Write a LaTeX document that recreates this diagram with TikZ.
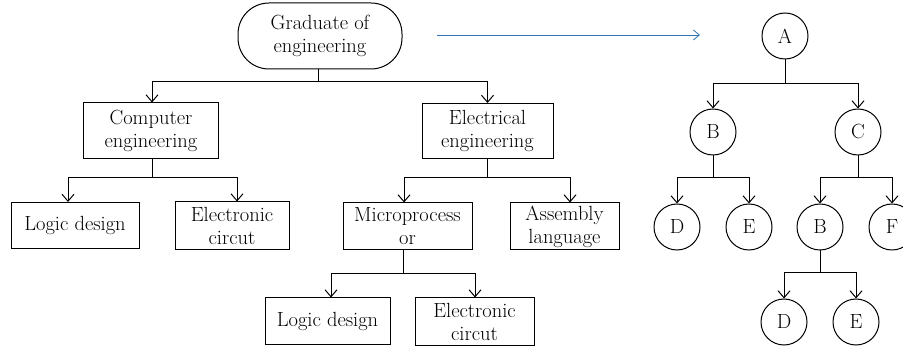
\documentclass[tikz,border=0pt]{standalone}
\usetikzlibrary{arrows.meta}
\definecolor{linkblue}{RGB}{46,117,182}
\begin{document}
\begin{tikzpicture}[x=1pt,y=-1pt,
  every node/.style={font=\fontsize{20.5}{23}\selectfont},
  box/.style={draw, line width=1pt, align=center, inner sep=0pt},
  pill/.style={box, rounded corners=31pt},
  circ/.style={draw, circle, line width=1pt, minimum size=46pt, inner sep=0pt},
  ln/.style={line width=1pt},
  arr/.style={ln, -{Straight Barb[length=7pt,width=12pt,line width=1pt]}},
  barr/.style={linkblue, line width=0.8pt, -{Straight Barb[length=6pt,width=10pt,line width=0.8pt]}}]
\clip (0,0) rectangle (903,347);
% left tree
\node[pill, minimum width=164pt, minimum height=66pt] (root) at (320,36) {Graduate of\\engineering};
\node[box, minimum width=135pt, minimum height=56pt] (comp) at (151,131) {Computer\\engineering};
\node[box, minimum width=131pt, minimum height=55pt] (elec) at (487.5,131) {Electrical\\engineering};
\node[box, minimum width=128pt, minimum height=46pt] (ld1) at (75,225.5) {Logic design};
\node[box, minimum width=114pt, minimum height=48pt] (ec1) at (232,226) {Electronic\\circut};
\node[box, minimum width=129pt, minimum height=47pt] (mp) at (407.5,226.5) {Microprocess\\or};
\node[box, minimum width=109pt, minimum height=47pt] (asm) at (564.5,226.5) {Assembly\\language};
\node[box, minimum width=125pt, minimum height=47pt] (ld2) at (327.5,321.5) {Logic design};
\node[box, minimum width=119pt, minimum height=48pt] (ec2) at (474.5,322) {Electronic\\circut};

\draw[ln] ([xshift=-2pt]root.south) -- ++(0,12) coordinate (j0);
\draw[arr] (j0) -| ([xshift=1pt]comp.north);
\draw[arr] (j0) -| (elec.north);
\draw[ln] ([xshift=1pt]comp.south) -- ++(0,18) coordinate (j1);
\draw[arr] (j1) -| ([xshift=-7pt]ld1.north);
\draw[arr] (j1) -| ([xshift=5pt]ec1.north);
\draw[ln] (elec.south) -- ++(0,18.5) coordinate (j2);
\draw[arr] (j2) -| ([xshift=-3.5pt]mp.north);
\draw[arr] (j2) -| ([xshift=5.5pt]asm.north);
\draw[ln] ([xshift=-4.5pt]mp.south) -- ++(0,23) coordinate (j3);
\draw[arr] (j3) -| ([xshift=3.5pt]ld2.north);
\draw[arr] (j3) -| ([xshift=0.5pt]ec2.north);

% blue arrow
\coordinate (bs) at (437,35);
\coordinate (be) at (700,35);
\draw[barr] (bs) -- (be);

% right tree
\node[circ] (A) at (785,36) {A};
\node[circ] (B) at (713,132) {B};
\node[circ] (C) at (858,132) {C};
\node[circ] (D) at (677,227) {D};
\node[circ] (E) at (749,227) {E};
\node[circ] (B2) at (820,227) {B};
\node[circ] (F) at (892,227) {F};
\node[circ] (D2) at (784,322) {D};
\node[circ] (E2) at (856,322) {E};

\draw[ln] (A.south) -- ++(0,24) coordinate (k0);
\draw[arr] (k0) -| (B.north);
\draw[arr] (k0) -| (C.north);
\draw[ln] (B.south) -- ++(0,22) coordinate (k1);
\draw[arr] (k1) -| (D.north);
\draw[arr] (k1) -| (E.north);
\draw[ln] (C.south) -- ++(0,22) coordinate (k2);
\draw[arr] (k2) -| (B2.north);
\draw[arr] (k2) -| (F.north);
\draw[ln] (B2.south) -- ++(0,22) coordinate (k3);
\draw[arr] (k3) -| (D2.north);
\draw[arr] (k3) -| (E2.north);
\end{tikzpicture}
\end{document}
